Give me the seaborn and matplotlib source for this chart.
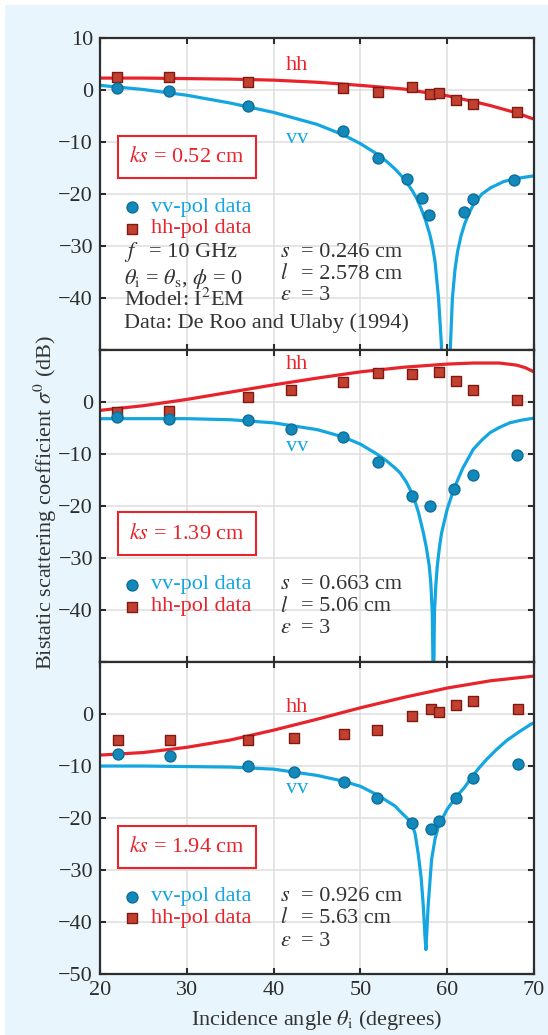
import numpy as np
import pandas as pd
import matplotlib
matplotlib.use("Agg")
import matplotlib.pyplot as plt
from matplotlib.patches import Rectangle
import seaborn as sns

# ---------------- measured data (incidence angle in degrees, sigma0 in dB) ----------------
data_angles = [22, 28, 37, 48, 52, 55.4, 57.1, 57.9, 61.9, 63, 67.7]
vv1_data = [0.4, -0.1, -3.0, -7.9, -13.1, -17.2, -20.8, -24.1, -23.4, -21.0, -17.3]
hh1_angles = [22, 28, 37, 48, 52, 56, 58, 59, 61, 63, 68]
hh1_data = [2.6, 2.55, 1.5, 0.4, -0.4, 0.6, -0.8, -0.6, -2.0, -2.75, -4.2]

vv2_angles = [22, 28, 37, 42, 48, 52, 56, 58, 60.8, 63, 68]
vv2_data = [-2.9, -3.3, -3.5, -5.1, -6.8, -11.6, -18.0, -20.0, -16.7, -14.1, -10.1]
hh2_angles = [22, 28, 37, 42, 48, 52, 56, 59, 61, 63, 68]
hh2_data = [-1.9, -1.7, 1.0, 2.4, 3.8, 5.6, 5.4, 5.8, 4.0, 2.4, 0.4]

ang3 = [22.1, 28.1, 37.1, 42.3, 48.1, 51.9, 55.9, 58.1, 59, 61, 63, 68.1]
vv3_data = [-7.7, -8.1, -9.9, -11.1, -13.0, -16.2, -20.9, -22.2, -20.6, -16.1, -12.3, -9.6]
hh3_data = [-5.0, -5.0, -5.0, -4.6, -3.9, -3.0, -0.4, 1.0, 0.4, 1.8, 2.5, 0.9]

# ---------------- I2EM model curves ----------------
hh1_model_x = [20, 25, 30, 35, 40, 45, 50, 55, 58, 60, 63, 65, 68, 70]
hh1_model_y = [2.3, 2.3, 2.2, 2.1, 1.9, 1.5, 0.9, 0.2, -0.6, -1.1, -2.2, -3.0, -4.4, -5.6]
vv1_model_x = [20, 25, 30, 35, 40, 45, 48, 50, 52, 53, 54, 55, 56, 56.5, 57, 57.5, 58, 58.3,
               58.6, 59.0, 59.3, 59.5, 60.2, 60.4, 60.6, 60.9, 61.2, 61.6, 62.0, 62.5, 63.0,
               64.0, 65.0, 66.5, 68.0, 70.0]
vv1_model_y = [0.9, 0.1, -1.0, -2.5, -4.3, -6.6, -8.6, -10.3, -12.4, -13.7, -15.2, -17.0, -19.4,
               -20.9, -22.8, -25.0, -27.8, -30.0, -33.0, -40.0, -48.0, -56.0, -56.0, -48.0,
               -40.0, -34.5, -31.0, -28.0, -25.8, -23.7, -22.1, -20.0, -18.8, -17.6, -17.0,
               -16.5]

hh2_model_x = [20, 25, 30, 35, 40, 45, 50, 55, 60, 63, 66, 68, 69, 70]
hh2_model_y = [-1.6, -0.7, 0.5, 1.9, 3.3, 4.6, 5.8, 6.7, 7.3, 7.5, 7.5, 7.1, 6.6, 5.8]
vv2_model_x = [20, 25, 30, 35, 40, 45, 48, 50, 52, 53, 54, 54.56, 55.3, 56.1, 56.7, 57.25,
               57.6, 57.93, 58.12, 58.28, 58.42, 58.53, 58.7, 58.86, 59.1, 59.36, 60.0, 60.78,
               61.8, 63.0, 64.0, 64.93, 66.0, 67.2, 68.5, 70.0]
vv2_model_y = [-3.2, -3.2, -3.2, -3.4, -4.0, -5.3, -6.7, -8.1, -10.1, -11.3, -12.7, -13.6,
               -15.4, -18.1, -21.3, -25.1, -28.0, -31.5, -35.0, -40.5, -58.0, -40.5, -35.0,
               -31.5, -28.0, -25.1, -20.6, -16.65, -12.7, -9.1, -7.3, -5.9, -4.9, -4.0, -3.5,
               -3.1]

hh3_model_x = [20, 25, 30, 35, 40, 45, 50, 55, 60, 65, 70]
hh3_model_y = [-7.9, -7.4, -6.4, -5.0, -3.1, -1.0, 1.2, 3.2, 5.0, 6.4, 7.3]
vv3_model_x = [20, 25, 30, 35, 40, 45, 48, 50, 52, 54, 54.56, 55.3, 55.9, 56.3, 56.67, 57.0,
               57.25, 57.45, 57.55, 57.8, 58.2, 58.6, 59.0, 60.0, 61.0, 62.0, 62.8, 63.7,
               64.55, 65.7, 66.85, 68.3, 69.7, 70.0]
vv3_model_y = [-10.0, -10.0, -10.1, -10.2, -10.6, -11.8, -12.9, -13.9, -15.6, -17.7, -18.7,
               -19.9, -21.0, -23.0, -27.0, -31.5, -37.0, -43.0, -45.3, -37.0, -28.0, -24.0,
               -21.5, -18.3, -16.0, -14.1, -12.2, -10.3, -8.7, -6.8, -5.1, -3.4, -1.9, -1.7]

ks_labels = ["0.52", "1.39", "1.94"]
s_values = ["0.246", "0.663", "0.926"]
l_values = ["2.578", "5.06", "5.63"]
x_ticks = [20, 30, 40, 50, 60, 70]
y_ticks = [-50, -40, -30, -20, -10, 0, 10]

# ---------------- styling ----------------
sns.set_theme(style="ticks")
plt.rcParams["font.family"] = ["Liberation Serif", "DejaVu Serif"]
plt.rcParams["mathtext.fontset"] = "stix"
plt.rcParams["axes.unicode_minus"] = True

RED = "#e8232b"
BLUE = "#14a6e0"
CIRC_FACE = "#1389bb"
CIRC_EDGE = "#0b6f98"
SQ_FACE = "#c2402f"
SQ_EDGE = "#7f1a12"
SPINE = "#2e2e2e"
TXT = "#333333"
FS = 16

fig = plt.figure(figsize=(5.48, 10.35), dpi=100)
fig.patch.set_facecolor("white")
fig.patches.append(Rectangle((5 / 548, 0), 1, 1 - 5 / 1035, transform=fig.transFigure,
                             facecolor="#e9f5fc", edgecolor="none", zorder=-10))

left, width = 100 / 548, 434 / 548
ph = 312 / 1035
bottoms = [0.0589 + 2 * ph, 0.0589 + ph, 0.0589]
axes = [fig.add_axes([left, b, width, ph]) for b in bottoms]

panels = [
    dict(vv_x=data_angles, vv_y=vv1_data, hh_x=hh1_angles, hh_y=hh1_data,
         vvm_x=vv1_model_x, vvm_y=vv1_model_y, hhm_x=hh1_model_x, hhm_y=hh1_model_y,
         hh_lab=4.8, vv_lab=-9.3, ks_y=-12.9),
    dict(vv_x=vv2_angles, vv_y=vv2_data, hh_x=hh2_angles, hh_y=hh2_data,
         vvm_x=vv2_model_x, vvm_y=vv2_model_y, hhm_x=hh2_model_x, hhm_y=hh2_model_y,
         hh_lab=7.25, vv_lab=-8.5, ks_y=-25.3),
    dict(vv_x=ang3, vv_y=vv3_data, hh_x=ang3, hh_y=hh3_data,
         vvm_x=vv3_model_x, vvm_y=vv3_model_y, hhm_x=hh3_model_x, hhm_y=hh3_model_y,
         hh_lab=1.3, vv_lab=-14.4, ks_y=-25.5),
]

for i, (ax, p) in enumerate(zip(axes, panels)):
    ax.set_facecolor("white")
    sns.lineplot(x=p["hhm_x"], y=p["hhm_y"], ax=ax, color=RED, lw=2.3,
                 estimator=None, sort=False, zorder=3)
    sns.lineplot(x=p["vvm_x"], y=p["vvm_y"], ax=ax, color=BLUE, lw=2.3,
                 estimator=None, sort=False, zorder=3)
    sns.scatterplot(x=p["hh_x"], y=p["hh_y"], ax=ax, marker="s", s=58, color=SQ_FACE,
                    edgecolor=SQ_EDGE, linewidth=1.0, zorder=4)
    sns.scatterplot(x=p["vv_x"], y=p["vv_y"], ax=ax, marker="o", s=62, color=CIRC_FACE,
                    edgecolor=CIRC_EDGE, linewidth=1.0, zorder=4)

    ax.set_xlim(20, 70)
    ax.set_ylim(-50, 10)
    ax.set_xticks(x_ticks)
    ax.set_yticks(y_ticks)
    ax.grid(True, color="#dedede", lw=1.1, zorder=0)
    ax.set_axisbelow(True)
    ax.tick_params(direction="in", length=4.5, width=1.5, top=True, right=True,
                   labelsize=FS, colors=SPINE, pad=5)
    for sp in ax.spines.values():
        sp.set_color(SPINE)
        sp.set_linewidth(1.6)
        sp.set_zorder(6)
    ax.set_xlabel("")
    ax.set_ylabel("")

    if i == 0:
        ylabels = ["" if t == -50 else f"{t}" for t in y_ticks]
    elif i == 1:
        ylabels = ["" if t in (-50, 10) else f"{t}" for t in y_ticks]
    else:
        ylabels = ["" if t == 10 else f"{t}" for t in y_ticks]
    ax.set_yticklabels([lab.replace("-", "\u2212") for lab in ylabels])
    if i < 2:
        ax.set_xticklabels([])

    # curve labels
    ax.text(42.7, p["hh_lab"], "hh", color=RED, fontsize=FS, ha="center", va="center", zorder=5)
    ax.text(42.7, p["vv_lab"], "vv", color=BLUE, fontsize=FS, ha="center", va="center", zorder=5)

    # ks box
    ax.text(30.0, p["ks_y"], f"$ks$ = {ks_labels[i]} cm", color=RED, fontsize=FS,
            ha="center", va="center", zorder=5,
            bbox=dict(boxstyle="square,pad=0.5", facecolor="white", edgecolor=RED, lw=1.5))

# legend-style rows and parameter text
rows = [(-22.5, -26.7), (-35.1, -39.4), (-35.1, -39.3)]
for i, ax in enumerate(axes):
    yv, yh = rows[i]
    ax.scatter([23.7], [yv], marker="o", s=62, color=CIRC_FACE, edgecolor=CIRC_EDGE,
               linewidth=1.0, zorder=5)
    ax.scatter([23.7], [yh], marker="s", s=58, color=SQ_FACE, edgecolor=SQ_EDGE,
               linewidth=1.0, zorder=5)
    ax.text(25.9, yv, "vv-pol data", color=BLUE, fontsize=FS, va="center", zorder=5)
    ax.text(25.9, yh, "hh-pol data", color=RED, fontsize=FS, va="center", zorder=5)

param_rows = [(-31.2, -35.4, -39.6), (-35.1, -39.4, -43.6), (-35.1, -39.3, -43.8)]
for i, ax in enumerate(axes):
    ys, yl, ye = param_rows[i]
    for yy, sym, val in [(ys, "$s$", f"= {s_values[i]} cm"),
                         (yl, "$l$", f"= {l_values[i]} cm"),
                         (ye, r"$\varepsilon$", "= 3")]:
        ax.text(40.7, yy, sym, color=TXT, fontsize=FS, va="center", zorder=5)
        ax.text(43.2, yy, val, color=TXT, fontsize=FS, va="center", zorder=5)

top = axes[0]
top.text(22.8, -31.2, "$f$", color=TXT, fontsize=FS, va="center", zorder=5)
top.text(25.6, -31.2, "= 10 GHz", color=TXT, fontsize=FS, va="center", zorder=5)
top.text(22.8, -36.3, r"$\theta_\mathrm{i}$ = $\theta_\mathrm{s}$, $\phi$ = 0",
         color=TXT, fontsize=FS, va="center", zorder=5)
top.text(22.8, -40.4, r"Model: I$^2$EM", color=TXT, fontsize=FS, va="center", zorder=5)
top.text(22.8, -44.8, "Data: De Roo and Ulaby (1994)", color=TXT, fontsize=FS,
         va="center", zorder=5)

fig.text(45 / 548, 1 - 503 / 1035, r"Bistatic scattering coefficient $\sigma^0$ (dB)",
         rotation=90, fontsize=FS, color=TXT, ha="center", va="center")
fig.text(317 / 548, 1 - 1020 / 1035, r"Incidence angle $\theta_\mathrm{i}$ (degrees)",
         fontsize=FS, color=TXT, ha="center", va="center")

fig.savefig("out.png", dpi=100, facecolor=fig.get_facecolor())
